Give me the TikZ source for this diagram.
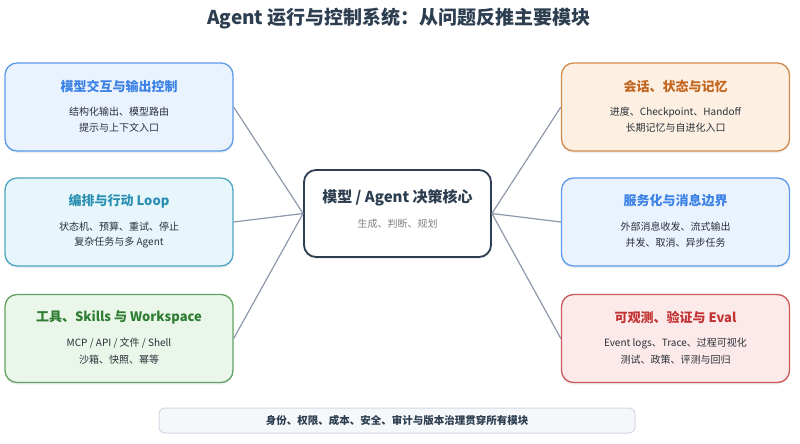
\documentclass[tikz,border=0pt]{standalone}
\usepackage{fontspec}
\setmainfont{Noto Sans CJK SC}
\usetikzlibrary{shadows}
\definecolor{ink}{HTML}{2C3E50}
\definecolor{subink}{HTML}{2A3038}
\definecolor{conn}{HTML}{8E99AB}
\definecolor{bluefill}{HTML}{EAF2FE}
\definecolor{blueline}{HTML}{5B9BEA}
\definecolor{bluetxt}{HTML}{3B82E6}
\definecolor{cyanfill}{HTML}{E6F6FB}
\definecolor{cyanline}{HTML}{4FA6C2}
\definecolor{cyantxt}{HTML}{2B8FB3}
\definecolor{greenfill}{HTML}{EAF6EA}
\definecolor{greenline}{HTML}{62A463}
\definecolor{greentxt}{HTML}{2F7D33}
\definecolor{orangefill}{HTML}{FDF0E2}
\definecolor{orangeline}{HTML}{D28B4E}
\definecolor{orangetxt}{HTML}{C2651E}
\definecolor{redfill}{HTML}{FCE9E9}
\definecolor{redline}{HTML}{CC5B5B}
\definecolor{redtxt}{HTML}{C23434}
\definecolor{barfill}{HTML}{F5F7FA}
\definecolor{barline}{HTML}{D3DAE5}
\begin{document}
\begin{tikzpicture}[x=1pt,y=-1pt,
  box/.style={draw, line width=1.3pt, rounded corners=12pt, minimum height=88pt,
    inner sep=0pt, drop shadow={opacity=0.12, shadow xshift=0pt, shadow yshift=-2pt}},
  sidebox/.style={box, minimum width=228pt},
  ttl/.style={font=\fontsize{13}{15}\selectfont\bfseries, inner sep=0pt},
  sub/.style={font=\fontsize{10}{12}\selectfont, text=subink, inner sep=0pt},
  link/.style={draw=conn, line width=1.2pt}]
\useasboundingbox (0,0) rectangle (800,444);
\fill[white] (0,0) rectangle (800,444);

\node[font=\fontsize{19}{23}\selectfont\bfseries, text=ink, inner sep=0pt] (title) at (399,19) {Agent 运行与控制系统：从问题反推主要模块};

% left boxes
\node[sidebox, fill=bluefill, draw=blueline] (L1) at (119,107) {};
\node[sidebox, fill=cyanfill, draw=cyanline] (L2) at (119,222) {};
\node[sidebox, fill=greenfill, draw=greenline] (L3) at (119,338.5) {};
% right boxes
\node[sidebox, fill=orangefill, draw=orangeline] (R1) at (675.5,107) {};
\node[sidebox, fill=bluefill, draw=blueline] (R2) at (675.5,222) {};
\node[sidebox, fill=redfill, draw=redline] (R3) at (675.5,338.5) {};
% center
\node[box, fill=white, draw=ink, line width=1.8pt, minimum width=187pt, minimum height=87pt] (C) at (397.5,213.5) {};

% connectors
\draw[link] (L1.east) -- (C.west);
\draw[link] (L2.east) -- (C.west);
\draw[link] (L3.east) -- (C.west);
\draw[link] (C.east) -- (R1.west);
\draw[link] (C.east) -- (R2.west);
\draw[link] (C.east) -- (R3.west);

% texts
\path (L1.center) ++(0,-21) node[ttl, text=bluetxt] (L1t) {模型交互与输出控制}
      (L1.center) ++(0,5) node[sub] (L1a) {结构化输出、模型路由}
      (L1.center) ++(0,21) node[sub] (L1b) {提示与上下文入口};
\path (L2.center) ++(0,-21) node[ttl, text=cyantxt] (L2t) {编排与行动 Loop}
      (L2.center) ++(0,5) node[sub] (L2a) {状态机、预算、重试、停止}
      (L2.center) ++(0,21) node[sub] (L2b) {复杂任务与多 Agent};
\path (L3.center) ++(0,-21) node[ttl, text=greentxt] (L3t) {工具、Skills 与 Workspace}
      (L3.center) ++(0,5) node[sub] (L3a) {MCP / API / 文件 / Shell}
      (L3.center) ++(0,21) node[sub] (L3b) {沙箱、快照、幂等};
\path (R1.center) ++(0,-21) node[ttl, text=orangetxt] (R1t) {会话、状态与记忆}
      (R1.center) ++(0,5) node[sub] (R1a) {进度、Checkpoint、Handoff}
      (R1.center) ++(0,21) node[sub] (R1b) {长期记忆与自进化入口};
\path (R2.center) ++(0,-21) node[ttl, text=bluetxt] (R2t) {服务化与消息边界}
      (R2.center) ++(0,5) node[sub] (R2a) {外部消息收发、流式输出}
      (R2.center) ++(0,21) node[sub] (R2b) {并发、取消、异步任务};
\path (R3.center) ++(0,-21) node[ttl, text=redtxt] (R3t) {可观测、验证与 Eval}
      (R3.center) ++(0,5) node[sub] (R3a) {Event logs、Trace、过程可视化}
      (R3.center) ++(0,21) node[sub] (R3b) {测试、政策、评测与回归};
\path (C.center) ++(0,-15.5) node[font=\fontsize{15}{18}\selectfont\bfseries, text=ink, inner sep=0pt] (Ct) {模型 / Agent 决策核心}
      (C.center) ++(0,10.5) node[font=\fontsize{10}{12}\selectfont, text=gray, inner sep=0pt] (Cs) {生成、判断、规划};

% bottom bar
\node[draw=barline, fill=barfill, line width=1pt, rounded corners=6pt, minimum width=476pt, minimum height=25pt, inner sep=0pt,
  font=\fontsize{10.5}{12}\selectfont\bfseries, text=ink] (bar) at (397,420.5) {身份、权限、成本、安全、审计与版本治理贯穿所有模块};
\end{tikzpicture}
\end{document}
